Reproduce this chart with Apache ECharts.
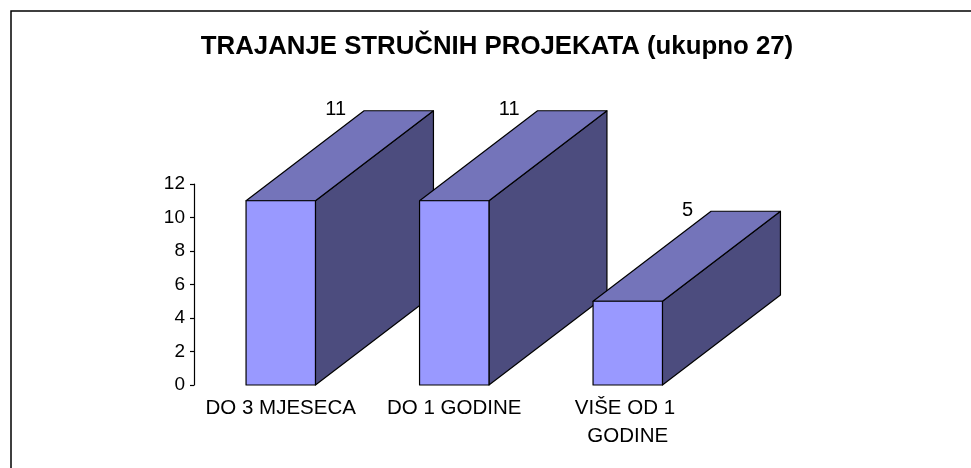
<!DOCTYPE html>
<html>
<head>
<meta charset="utf-8">
<script src="https://cdn.jsdelivr.net/npm/echarts@6/dist/echarts.min.js"></script>
<style>
  html, body { margin: 0; padding: 0; background: #fff; }
  #chart { width: 971px; height: 468px; }
</style>
</head>
<body>
<div id="chart"></div>
<script>
// Project duration categories and counts
const categories = ['DO 3 MJESECA', 'DO 1 GODINE', 'VIŠE OD 1 GODINE'];
const counts = [11, 11, 5];
const yTicks = { min: 0, max: 12, interval: 2 };
const titleText = 'TRAJANJE STRUČNIH PROJEKATA (ukupno 27)';

// Oblique depth of the 3D boxes (pixels)
const DEPTH_X = 118;
const DEPTH_Y = 90;

const FONT = '"Liberation Sans", Arial, sans-serif';
const FRONT = '#9999FF';
const TOPC = '#7474BA';
const SIDE = '#4C4C7E';

const chart = echarts.init(document.getElementById('chart'));

function renderBox(params, api) {
  const idx = api.value(0);
  const v = api.value(1);
  const base = api.coord([idx, 0]);
  const top = api.coord([idx, v]);
  const w = api.size([1, 0])[0] * 0.4;
  const x0 = base[0] - w / 2, x1 = base[0] + w / 2;
  const y0 = base[1], y1 = top[1];
  const dx = DEPTH_X, dy = DEPTH_Y;
  const stroke = { stroke: '#000', lineWidth: 1.2, lineJoin: 'round' };
  return {
    type: 'group',
    children: [
      { type: 'polygon', shape: { points: [[x1, y0], [x1 + dx, y0 - dy], [x1 + dx, y1 - dy], [x1, y1]] },
        style: Object.assign({ fill: SIDE }, stroke) },
      { type: 'polygon', shape: { points: [[x0, y1], [x1, y1], [x1 + dx, y1 - dy], [x0 + dx, y1 - dy]] },
        style: Object.assign({ fill: TOPC }, stroke) },
      { type: 'polygon', shape: { points: [[x0, y0], [x1, y0], [x1, y1], [x0, y1]] },
        style: Object.assign({ fill: FRONT }, stroke) },
      { type: 'text', x: x0 + dx - 18, y: y1 - dy - 1,
        style: { text: String(v), fill: '#000', font: '20px ' + FONT, align: 'right', verticalAlign: 'middle' } }
    ]
  };
}

chart.setOption({
  animation: false,
  backgroundColor: '#fff',
  title: {
    text: titleText,
    left: 492,
    top: 29,
    textAlign: 'center',
    textStyle: { fontFamily: FONT, fontWeight: 'bold', fontSize: 25.8, color: '#000' }
  },
  graphic: [
    { type: 'polyline', shape: { points: [[11, 470], [11, 11], [975, 11]] },
      style: { stroke: '#000', lineWidth: 1.5, fill: null } }
  ],
  grid: { left: 194, right: 256.5, top: 184, bottom: 83, containLabel: false },
  xAxis: {
    type: 'category',
    data: categories,
    axisLine: { show: false },
    axisTick: { show: false },
    axisLabel: {
      interval: 0,
      margin: 9,
      color: '#000',
      fontFamily: FONT,
      fontSize: 20.5,
      lineHeight: 28,
      width: 172,
      overflow: 'break'
    }
  },
  yAxis: {
    type: 'value',
    min: yTicks.min,
    max: yTicks.max,
    interval: yTicks.interval,
    splitLine: { show: false },
    axisLine: { show: true, lineStyle: { color: '#000', width: 1.2 } },
    axisTick: { show: true, length: 4, lineStyle: { color: '#000', width: 1.2 } },
    axisLabel: { margin: 9, color: '#000', fontFamily: FONT, fontSize: 19 }
  },
  series: [{
    type: 'custom',
    clip: false,
    renderItem: renderBox,
    encode: { x: 0, y: 1 },
    data: counts.map((c, i) => [i, c])
  }]
});
</script>
</body>
</html>
